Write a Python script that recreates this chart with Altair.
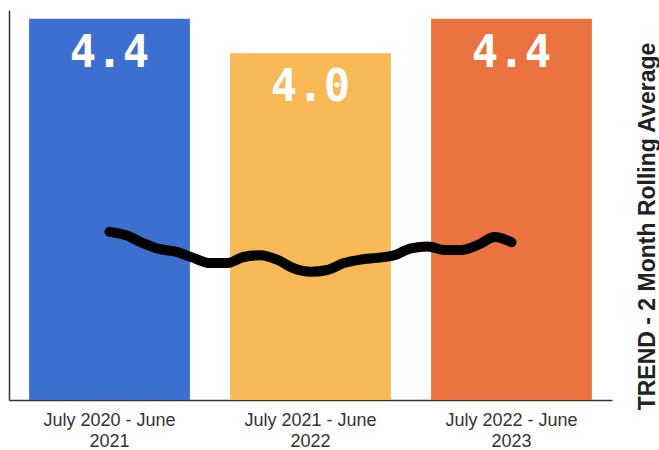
import altair as alt
import pandas as pd

# Yearly average per reporting period
periods = ["July 2020 - June 2021", "July 2021 - June 2022", "July 2022 - June 2023"]
averages = [4.4, 4.0, 4.4]
bar_colors = ["#3b70d0", "#f6b956", "#ea733f"]

# 2-month rolling average trend, one point per month
trend_step = [0, 1, 2, 3, 4, 5, 6, 7, 8, 9, 10, 11, 12,
              13, 14, 15, 16, 17, 18, 19, 20, 21, 22, 23, 24]
trend_values = [1.94, 1.90, 1.81, 1.74, 1.71, 1.64, 1.58, 1.58, 1.65,
                1.67, 1.62, 1.52, 1.48, 1.50, 1.58, 1.62, 1.64, 1.67,
                1.75, 1.77, 1.73, 1.73, 1.79, 1.88, 1.82]

bars_df = pd.DataFrame({"period": periods, "avg": averages})
trend_df = pd.DataFrame({"step": trend_step, "value": trend_values})

split_label = (
    "[substring(datum.label, 0, lastindexof(datum.label, ' ')),"
    " substring(datum.label, lastindexof(datum.label, ' ') + 1)]"
)

x_band = alt.X(
    "period:N",
    sort=periods,
    scale=alt.Scale(paddingInner=0.2, paddingOuter=0.1),
    axis=alt.Axis(
        title=None, labelAngle=0, ticks=False, grid=False,
        domainColor="#333333", domainWidth=1.5,
        labelFont="Liberation Sans", labelFontSize=18, labelColor="#333333",
        labelLineHeight=21, labelPadding=11, labelExpr=split_label,
    ),
)
y_left = alt.Y(
    "avg:Q",
    scale=alt.Scale(domain=[0, 4.5], nice=False),
    axis=alt.Axis(title=None, labels=False, ticks=False, grid=False,
                  domainColor="#333333", domainWidth=1.5),
)

bars = alt.Chart(bars_df).mark_bar().encode(
    x=x_band,
    y=y_left,
    color=alt.Color("period:N", scale=alt.Scale(domain=periods, range=bar_colors), legend=None),
)

value_labels = alt.Chart(bars_df).mark_text(
    baseline="alphabetic", align="center", dy=48,
    font="DejaVu Sans Mono", fontWeight="bold", fontSize=44, color="white",
).encode(
    x=x_band,
    y=y_left,
    text=alt.Text("avg:Q", format=".1f"),
)

trend = alt.Chart(trend_df).mark_line(
    color="black", strokeWidth=10, strokeCap="round", strokeJoin="round",
    interpolate="monotone",
).encode(
    x=alt.X("step:Q", scale=alt.Scale(domain=[-6, 30], nice=False, zero=False), axis=None),
    y=alt.Y(
        "value:Q",
        scale=alt.Scale(domain=[0, 4.5], nice=False),
        axis=alt.Axis(
            orient="right", domain=False, labels=False, ticks=False, grid=False,
            title="TREND - 2 Month Rolling Average",
            titleFont="Liberation Sans", titleFontSize=23, titleFontWeight="bold",
            titleColor="#222222", titleAngle=270, titleAlign="center",
            titleBaseline="middle", titleX=35, titleY=216,
        ),
    ),
)

chart = (
    alt.layer(alt.layer(bars, value_labels), trend)
    .resolve_scale(x="independent", y="independent")
    .properties(
        width=603, height=390,
        padding={"left": 9, "top": 10, "right": 47, "bottom": 50},
        autosize=alt.AutoSizeParams(type="none"),
        background="white",
    )
    .configure_view(stroke=None)
)

chart.save("out.html", embed_options={"renderer": "svg", "actions": False})
